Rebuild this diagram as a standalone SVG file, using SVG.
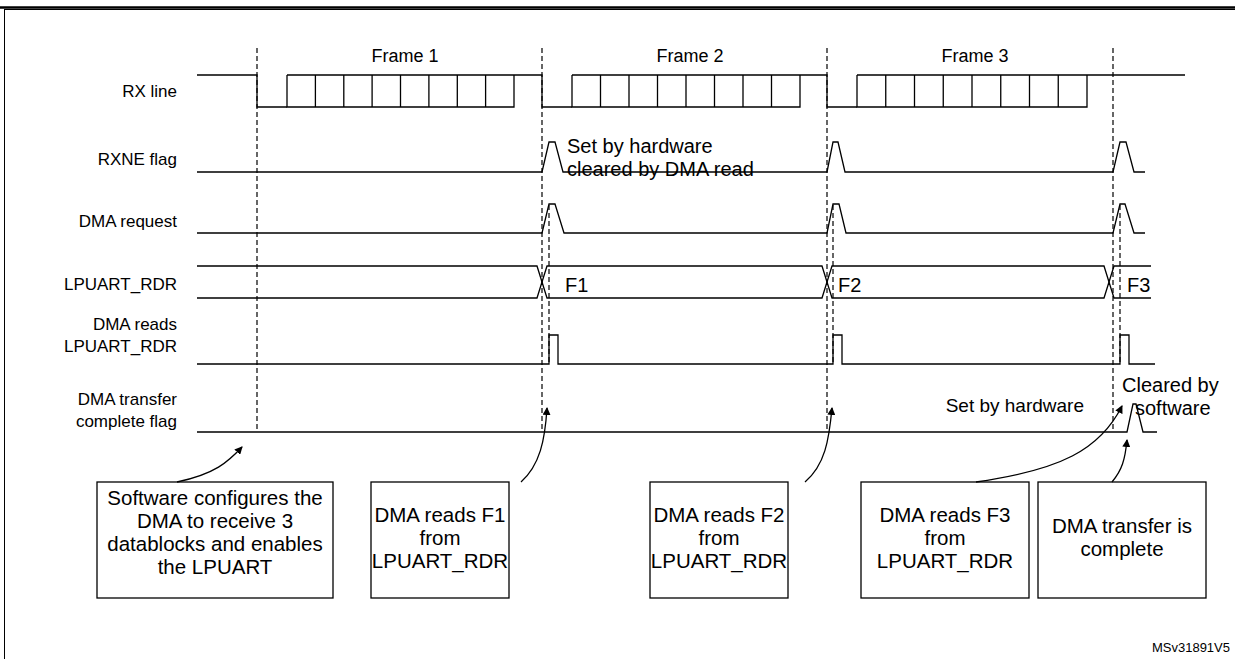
<svg xmlns="http://www.w3.org/2000/svg" width="1235" height="659" viewBox="0 0 1235 659">
<defs>
<marker id="ah" markerWidth="8" markerHeight="8" refX="7" refY="4" orient="auto" markerUnits="userSpaceOnUse"><path d="M0,0 L8,4 L0,8 Z" fill="#000"/></marker>
<style>
text{font-family:"Liberation Sans",Arial,sans-serif;font-size:17px;fill:#000}
.bx{font-size:20.5px}
.an{font-size:20px}
.s{fill:none;stroke:#000;stroke-width:1.3}
.d{fill:none;stroke:#000;stroke-width:1.2;stroke-dasharray:5,3}
.b{fill:#fff;stroke:#000;stroke-width:1.3}
.c{text-anchor:middle}
.r{text-anchor:end}
</style>
</defs>
<rect width="1235" height="659" fill="#fff"/>
<line x1="0" y1="7.5" x2="1235" y2="7.5" stroke="#000" stroke-width="2.5"/>
<rect x="4.5" y="9.5" width="1240" height="660" fill="none" stroke="#000" stroke-width="1"/>

<g id="labels">
<text x="405" y="62" class="c an" style="font-size:18px">Frame 1</text>
<text x="690" y="62" class="c an" style="font-size:18px">Frame 2</text>
<text x="975" y="62" class="c an" style="font-size:18px">Frame 3</text>
<text x="177" y="97" class="r">RX line</text>
<text x="177" y="165" class="r">RXNE flag</text>
<text x="177" y="227" class="r">DMA request</text>
<text x="177" y="290" class="r">LPUART_RDR</text>
<text x="177" y="330" class="r">DMA reads</text>
<text x="177" y="352" class="r">LPUART_RDR</text>
<text x="177" y="405" class="r">DMA transfer</text>
<text x="177" y="427" class="r">complete flag</text>
<text x="567" y="153" class="an">Set by hardware</text>
<text x="567" y="176" class="an">cleared by DMA read</text>
<text x="565" y="292" class="an">F1</text>
<text x="838" y="292" class="an">F2</text>
<text x="1127" y="292" class="an">F3</text>
<text x="1084" y="412" class="r an" style="font-size:19px">Set by hardware</text>
<text x="1122" y="392" class="an">Cleared by</text>
<text x="1135" y="415" class="an">software</text>
<text x="1230" y="652" class="r" style="font-size:13px">MSv31891V5</text>
</g>

<g id="dashes">
<line class="d" x1="257" y1="48" x2="257" y2="432"/>
<line class="d" x1="542" y1="48" x2="542" y2="432"/>
<line class="d" x1="549" y1="205" x2="549" y2="364"/>
<line class="d" x1="827" y1="48" x2="827" y2="432"/>
<line class="d" x1="833" y1="205" x2="833" y2="364"/>
<line class="d" x1="1113" y1="48" x2="1113" y2="432"/>
<line class="d" x1="1120" y1="205" x2="1120" y2="364"/>
</g>

<g id="rxline">
<path class="s" d="M197,75 H257 V107 H287 M287,75 H514 V75 H542 V107 H572 M572,75 H800 H827 V107 H857 M857,75 H1087 H1185"/>
<path class="s" d="M287,75 V107 H514 V75 M572,75 V107 H800 V75 M857,75 V107 H1087 V75"/>
<path class="s" d="M315.4,75V107M343.8,75V107M372.1,75V107M400.5,75V107M428.9,75V107M457.3,75V107M485.6,75V107
M600.5,75V107M629,75V107M657.5,75V107M686,75V107M714.5,75V107M743,75V107M771.5,75V107
M885.75,75V107M914.5,75V107M943.25,75V107M972,75V107M1000.75,75V107M1029.5,75V107M1058.25,75V107"/>
</g>

<g id="rxne">
<path class="s" d="M197,172 H542 L549,142 H555 L563,172 H827 L833,142 H838 L845,172 H1113 L1120,142 H1126 L1134,172 H1145"/>
</g>
<g id="dmareq">
<path class="s" d="M197,233 H542 L549,204 H555 L564,233 H827 L833,204 H839 L846,233 H1113 L1120,204 H1125 L1134,233 H1145"/>
</g>
<g id="rdr">
<path class="s" d="M197,266 H537 L542,282 L547,266 H822 L827,282 L832,266 H1104 L1109,282 L1114,266 H1151"/>
<path class="s" d="M197,298 H537 L542,282 L547,298 H822 L827,282 L832,298 H1104 L1109,282 L1114,298 H1151"/>
</g>
<g id="dmareads">
<path class="s" d="M197,364 H549 V335 H558 V364 H833 V335 H842 V364 H1120 V335 H1129 V364 H1155"/>
</g>
<g id="tc">
<path class="s" d="M197,432 H1127 L1133,404 H1136 L1143,432 H1157"/>
</g>

<g id="box1"><rect class="b" x="97" y="482" width="236" height="116"/>
<text x="215" y="505" class="c bx">Software configures the</text>
<text x="215" y="528" class="c bx">DMA to receive 3</text>
<text x="215" y="551" class="c bx">datablocks and enables</text>
<text x="215" y="574" class="c bx">the LPUART</text></g>
<g id="box2"><rect class="b" x="371" y="482" width="138" height="116"/>
<text x="440" y="522" class="c bx">DMA reads F1</text>
<text x="440" y="545" class="c bx">from</text>
<text x="440" y="568" class="c bx">LPUART_RDR</text></g>
<g id="box3"><rect class="b" x="650" y="482" width="138" height="116"/>
<text x="719" y="522" class="c bx">DMA reads F2</text>
<text x="719" y="545" class="c bx">from</text>
<text x="719" y="568" class="c bx">LPUART_RDR</text></g>
<g id="box4"><rect class="b" x="861" y="482" width="168" height="116"/>
<text x="945" y="522" class="c bx">DMA reads F3</text>
<text x="945" y="545" class="c bx">from</text>
<text x="945" y="568" class="c bx">LPUART_RDR</text></g>
<g id="box5"><rect class="b" x="1038" y="482" width="168" height="116"/>
<text x="1122" y="533" class="c bx">DMA transfer is</text>
<text x="1122" y="556" class="c bx">complete</text></g>

<g id="connectors">
<path class="s" marker-end="url(#ah)" d="M177,482 C215,474 228,462 242,447"/>
<path class="s" marker-end="url(#ah)" d="M521,482 C540,465 545,440 547,408"/>
<path class="s" marker-end="url(#ah)" d="M805,482 C825,465 829,440 832,408"/>
<path class="s" marker-end="url(#ah)" d="M976,482 C1060,470 1100,450 1122,406"/>
<path class="s" marker-end="url(#ah)" d="M1112,482 C1122,470 1125,460 1127,440"/>
</g>
</svg>
